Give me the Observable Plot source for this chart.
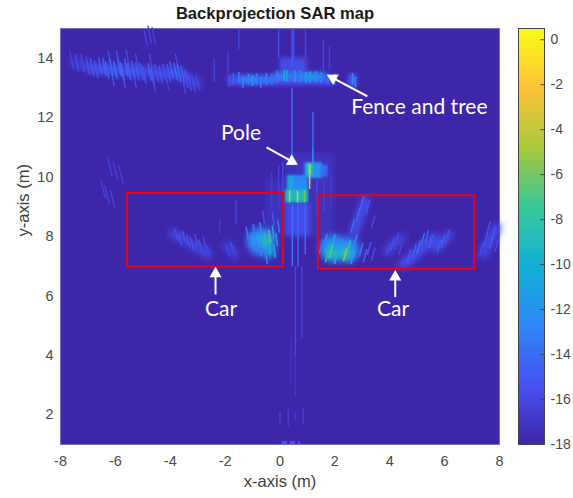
<!DOCTYPE html>
<html><head><meta charset="utf-8">
<style>
html,body{margin:0;padding:0;background:#fff}
#wrap{position:relative;width:573px;height:498px;overflow:hidden}
#wrap>svg{position:absolute;left:0;top:0}
</style>
<script src="https://cdn.jsdelivr.net/npm/d3@7"></script>
<script src="https://cdn.jsdelivr.net/npm/@observablehq/plot@0.6"></script>
</head><body>
<svg width="0" height="0" style="position:absolute"><defs>
<filter id="blob" filterUnits="userSpaceOnUse" x="0" y="0" width="573" height="498"><feGaussianBlur stdDeviation="3"/></filter>
<filter id="soft" filterUnits="userSpaceOnUse" x="0" y="0" width="573" height="498"><feGaussianBlur stdDeviation="2.2"/></filter>
<filter id="crisp" filterUnits="userSpaceOnUse" x="0" y="0" width="573" height="498"><feGaussianBlur stdDeviation="1"/></filter>
<filter id="fine" filterUnits="userSpaceOnUse" x="0" y="0" width="573" height="498"><feGaussianBlur stdDeviation="0.75"/></filter>
</defs></svg>
<div id="wrap"></div>
<script>
const xTicks=[-8,-6,-4,-2,0,2,4,6,8];
const yTicks=[2,4,6,8,10,12,14];
const cbTicks=[0,-2,-4,-6,-8,-10,-12,-14,-16,-18];
const parula=["#3e26a8","#4752f4","#2d87f7","#11b1d6","#37c897","#abc739","#fec338","#f9fb14"];
// broad patches: x1,x2,y1,y2,value (dB)
const patches=[
[-1.9,1.95,13.42,13.08,-15.6],[-1.5,-0.2,13.4,13.1,-14],[-0.2,1.7,13.52,13.24,-13.4],[0.85,1.4,13.5,13.25,-12.2],[-1.2,-0.9,13.38,13.12,-12.6],
[0.0,1.0,14.0,13.55,-15.8],[2.5,2.8,13.45,13.05,-14.6],
[0.2,2,10.8,9,-17.2],[-0.5,2,9.9,8,-17.4],[0.2,1.1,9.1,8.0,-15.8]
];
// rounded car bodies: x,y,radius,value
const blobs=[
[-0.67,7.82,15,-14.2],[-0.75,7.85,11,-12.6],[-0.95,7.9,5,-10.5],[-0.5,7.85,6,-8.5],[-0.35,7.45,5,-11],
[1.95,7.6,14,-13],[2.45,7.55,13,-13.2],[1.9,7.5,9,-10.5],[2.4,7.45,8,-10.2],[1.85,7.4,4,-7.5],[2.38,7.4,4,-7.5]
];
// the pole's blocks: x1,x2,y1,y2,value
const poleBlocks=[
[0.9,1.55,10.48,9.95,-11.8],[1.5,1.75,10.4,10,-14.2],[1.0,1.2,10.45,10.05,-7.5],
[0.27,1.04,10.05,9.55,-12.6],[0.3,0.48,10.05,9.55,-10.6],
[0.2,1.04,9.57,9.13,-9.2]
];
// wide hazy bands: x1,y1,x2,y2,value
const hazes=[
[-7.5,13.85,-6.8,13.65,-16.4],[-6.8,13.65,-5,13.55,-15],[-5,13.55,-4.2,13.45,-15.8],[-4.2,13.5,-3.6,13.5,-15.2],[-3.6,13.4,-3,13.15,-16],
[-3.9,8.1,-2.6,7.4,-16],[-1.95,7.7,-1.65,7.4,-16.4],
[4.5,7.05,5.6,7.95,-15.5],[5.7,7.6,6.15,8.05,-15.8],[3.9,7.5,4.45,7.95,-16.2],[7.4,7.4,7.9,8.3,-15.8],
[2.7,8.1,3.1,9.2,-15.6]
];
// vertical lines: x,y1,y2,value
const lines=[
[0.44,15,13.7,-15.2],[0.44,13,10.4,-14],[0.45,9.1,7,-13.6],[0.66,9.1,7,-14.4],[0.92,9.1,7.4,-14.4],
[0.56,7,4,-16],[0.8,7,4.6,-16.2],[0.56,4,2.6,-16.9],[0.4,4.6,3,-17],
[1.2,12.2,11,-14],[1.2,11,10.4,-11.8],[1.08,10.45,9.6,-3],
[0.35,9.55,9.15,-3.5],[0.64,9.55,9.15,-3.2],[0.89,9.55,9.15,-6],
[-0.05,15,14,-15.8],[0.5,15,14,-15.6],[0.93,15,14,-16],[-1.5,15,14.3,-16],[1.58,14.6,13.6,-16.1],[1.8,14.4,13.6,-16.4],[-2.4,14,13.2,-16.4],[-1.9,14.2,13.5,-16.5],
[-1.6,9.2,8.4,-16.4],[-2.2,8.6,8.1,-16.8],[0,2.1,1.7,-16.6],[0.3,2.2,1.6,-16.5],[0.85,2.2,1.7,-16.5],[0.55,2.1,1.8,-16.8],
[-0.3,10.2,8.9,-16.6],[-0.05,10.4,9,-16.3],[0.1,10.5,9.2,-16],[1.35,9.9,8.6,-15.8],[1.6,9.9,8.8,-16.4],[1.85,10.1,9,-16.6]
];
// stripes at the bottom edge: x1,x2,value
const bottomStripes=[[0.09,0.27,-15],[0.38,0.56,-15],[0.67,0.75,-15.4]];
// streak centres: x,y,value, one table per feature
const fenceLeft=[[-7.6,13.95,-16],[-7.4,13.85,-15.8],[-7.2,13.85,-16],[-7,13.75,-15.6],[-6.85,13.7,-15.2],[-6.7,13.62,-15.5],[-6.55,13.75,-15],[-6.4,13.72,-14.4],[-6.3,13.6,-14.6],[-6.15,13.7,-14],[-6,13.6,-13.8],[-5.85,13.7,-14.2],[-5.75,13.55,-13.9],[-5.6,13.7,-14.3],[-5.5,13.55,-14.6],[-5.35,13.62,-14.6],[-5.2,13.55,-14.9],[-5.05,13.55,-15],[-4.95,13.45,-15.3],[-4.75,13.55,-14.3],[-4.65,13.4,-14.9],[-4.5,13.5,-15.4],[-4.35,13.45,-15.3],[-4.2,13.5,-15.6],[-4.05,13.5,-15],[-3.95,13.6,-14.7],[-3.8,13.55,-14.2],[-3.68,13.5,-14.1],[-3.55,13.45,-14.8],[-3.42,13.3,-15.1],[-3.3,13.2,-15.5],[-3.15,13.15,-16],[-3,13.2,-16.3],[-4.9,14.7,-16],[-4.75,14.8,-16.1],[-4.6,14.75,-16.2],
[-6.2,13.95,-15.6],[-5.9,13.95,-15.4],[-5.55,14,-15.8],[-5.2,13.85,-15.8],[-4.7,13.85,-15.9],[-6.1,13.35,-15.5],[-5.7,13.3,-15.3],[-5.3,13.3,-15.6],[-4.6,13.15,-15.8],[-4.1,13.2,-16.2],[-3.75,13.85,-15.8],[-3.5,13.1,-15.9]];
const fenceRight=[[-1.85,13.25,-15.2],[-1.7,13.3,-14.8],[-1.5,13.35,-13.6],[-1.35,13.2,-12.8],[-1.15,13.3,-13.1],[-1,13.25,-12.4],[-0.85,13.3,-13],[-0.7,13.2,-13.4],[-0.5,13.3,-13.2],[-0.3,13.3,-14],[-0.1,13.4,-13.2],[0.15,13.42,-10.8],[0.25,13.42,-11],[0.55,13.4,-12],[0.75,13.4,-12.6],[0.95,13.35,-11.8],[1.1,13.38,-11.4],[1.3,13.38,-12.6],[1.5,13.35,-13],[1.75,13.3,-14.4],[2,13.3,-14.8],[2.65,13.3,-12.8],[2.75,13.2,-13.4]];
const carLeftBig=[[-1.2,8.1,-13.6],[-1.05,7.85,-13],[-0.95,8.2,-13.4],[-0.85,7.7,-12.8],[-0.7,8.25,-12.6],[-0.7,7.55,-12.4],[-0.52,7.9,-9],[-0.38,8.0,-7],[-0.38,7.6,-10.4],[-0.25,8.15,-11],[-0.2,7.5,-10.8],[-0.12,7.9,-11.6],[-0.05,8.35,-14],[-0.5,7.3,-13],[-0.25,8.6,-15.4],[-0.6,8.65,-15.6]];
const carLeftSmall=[[-3.8,8.1,-15.6],[-3.65,7.9,-15.1],[-3.5,8.0,-15.2],[-3.35,7.85,-15],[-3.2,7.75,-15.1],[-3.05,7.9,-15.4],[-2.9,7.7,-15.5],[-2.75,7.8,-15.6],[-2.6,7.5,-16],[-1.9,7.55,-16],[-1.75,7.65,-15.7],[-1.65,7.5,-16]];
const carRightBig=[[1.5,7.65,-13.4],[1.65,7.85,-12.4],[1.72,7.35,-9],[1.85,7.5,-6.5],[1.95,7.85,-10.4],[2.05,7.3,-9.5],[2.2,7.7,-11.4],[2.38,7.4,-5.5],[2.5,7.65,-8.5],[2.65,7.3,-11],[2.75,7.85,-12.4],[2.95,7.55,-13.8],[3.1,7.35,-14.6],[3.25,7.6,-15.2],[3.4,7.4,-15.8],[2.65,8.35,-14],[2.85,8.75,-14.4],[3,9.15,-14.4],[3.2,9.0,-15.4],[3.4,8.5,-16.2]];
const carRightSmall=[[3.95,7.6,-15.8],[4.1,7.75,-15.2],[4.25,7.9,-15.5],[4.4,7.6,-16],[4.7,7.35,-15.1],[4.9,7.55,-14.2],[5.05,7.65,-13.7],[5.2,7.9,-13.6],[5.35,8.0,-14.2],[5.5,7.85,-14.8],[5.8,7.7,-14.8],[5.95,7.85,-14.6],[6.1,8.0,-15.2],[7.35,7.6,-15.4],[7.5,7.9,-15.1],[7.6,8.3,-15.5],[7.7,7.8,-14.9],[7.8,8.1,-15.2],[7.9,7.7,-15.6]];
const faintLeft=[[-6.2,10.35,-16.2],[-6,10.2,-16],[-5.8,10.1,-16.3],[-6.3,9.4,-16],[-6.45,9.6,-16.2],[-6.1,9.25,-16.1]];
// colorbar levels
const levels=d3.range(-18,0.5,0.125);
const wrap=document.getElementById("wrap");
const colorScale={type:"linear",domain:d3.range(8).map(i=>-18+i*18.5/7),range:parula,interpolate:"rgb",clamp:true};
const font={fontFamily:"'Liberation Sans',Arial,sans-serif",color:"#404040",background:"transparent"};
const tick=d=>String(d);
const filtered=id=>(i,s,v,d,c,next)=>{const g=next(i,s,v,d,c);g.setAttribute("filter",`url(#${id})`);return g;};
function streaks(rows,dx,dy,width){
  return Plot.link(rows,{x1:d=>d[0]-dx,y1:d=>d[1]-dy,x2:d=>d[0]+dx,y2:d=>d[1]+dy,stroke:d=>d[2],strokeWidth:width,strokeLinecap:"round",sort:d=>d[2],render:filtered("fine")});
}
const rects=(rows,id)=>Plot.rect(rows,{x1:d=>d[0],x2:d=>d[1],y1:d=>d[2],y2:d=>d[3],fill:d=>d[4],render:filtered(id)});
const white={fill:"white",fontFamily:"Lato,sans-serif",fontSize:21,stroke:"none"};
const main=Plot.plot({
  width:573,height:498,marginLeft:60,marginRight:74,marginTop:28,marginBottom:54,style:font,
  x:{domain:[-8,8]},y:{domain:[1,15]},color:colorScale,r:{type:"identity"},
  marks:[
    Plot.frame({fill:parula[0],stroke:"#7a6cc8"}),
    rects(patches,"soft"),
    Plot.dot(blobs,{x:d=>d[0],y:d=>d[1],r:d=>d[2],fill:d=>d[3],stroke:"none",render:filtered("blob")}),
    Plot.link(hazes,{x1:d=>d[0],y1:d=>d[1],x2:d=>d[2],y2:d=>d[3],stroke:d=>d[4],strokeWidth:9,strokeLinecap:"round",render:filtered("blob")}),
    rects(poleBlocks,"crisp"),
    Plot.link(lines,{x:d=>d[0],y1:d=>d[1],y2:d=>d[2],stroke:d=>d[3],strokeWidth:1.5,sort:d=>d[3],render:filtered("fine")}),
    streaks(fenceLeft,0.06,-0.28,1.4),
    streaks(fenceRight,0,0.16,1.8),
    streaks(carLeftBig,0.03,-0.2,1.6),
    streaks(carLeftSmall,0.05,-0.18,1.3),
    streaks(carRightBig,0.06,0.2,1.6),
    streaks(carRightSmall,0.06,0.2,1.3),
    streaks(faintLeft,0.08,-0.3,1.3),
    Plot.rect(bottomStripes,{x1:d=>d[0],x2:d=>d[1],y1:1,y2:1.1,fill:d=>d[2]}),
    Plot.rect([[-5.56,0.12,6.97,9.45],[1.4,7.1,6.9,9.37]],{x1:d=>d[0],x2:d=>d[1],y1:d=>d[2],y2:d=>d[3],stroke:"#f00010",strokeWidth:2,fill:"none"}),
    Plot.link([[3.18,12.72,1.95,13.32],[-0.49,11,0.43,10.53],[-2.35,6.05,-2.35,6.75],[4.2,5.96,4.2,6.64]],{x1:d=>d[0],y1:d=>d[1],x2:d=>d[2],y2:d=>d[3],stroke:"white",strokeWidth:2}),
    Plot.dot([[1.93,13.33,-62],[0.43,10.53,119],[-2.35,6.75,0],[4.2,6.64,0]],{x:d=>d[0],y:d=>d[1],rotate:d=>d[2],symbol:"triangle",r:4.5,fill:"white",stroke:"none"}),
    Plot.text([[5.08,12.34,"Fence and tree"],[-1.42,11.46,"Pole"],[-2.15,5.56,"Car"],[4.12,5.56,"Car"]],{x:d=>d[0],y:d=>d[1],text:d=>d[2],...white}),
    Plot.axisX({ticks:xTicks,tickSize:0,tickPadding:11,tickFormat:tick,fontSize:14.5,label:null,fill:"#4a4a4a"}),
    Plot.axisY({ticks:yTicks,tickSize:0,tickPadding:7,tickFormat:tick,fontSize:14.5,label:null,fill:"#4a4a4a"}),
    Plot.text(["x-axis (m)"],{frameAnchor:"bottom",dy:42,fontSize:16.5,fill:"#404040"}),
    Plot.text(["y-axis (m)"],{frameAnchor:"left",dx:-37,rotate:-90,fontSize:16.5,fill:"#404040"}),
    Plot.text(["Backprojection SAR map"],{frameAnchor:"top",dy:-21,dx:-5,fontSize:16.6,fontWeight:"bold",fill:"#1a1a1a"})
  ]
});
wrap.append(main);
const bar=Plot.plot({
  width:573,height:498,marginLeft:518,marginRight:29,marginTop:28,marginBottom:54,style:font,
  x:{domain:[0,1],axis:null},y:{domain:[-18,0.5]},color:colorScale,
  marks:[
    Plot.rect(levels,{x1:0,x2:1,y1:d=>d,y2:d=>d+0.125,fill:d=>d+0.0625,shapeRendering:"crispEdges"}),
    Plot.ruleY(cbTicks,{x1:0.86,x2:1,stroke:"#444"}),
    Plot.frame({stroke:"#444"}),
    Plot.axisY({anchor:"right",ticks:cbTicks,tickSize:0,tickPadding:6,tickFormat:tick,fontSize:14,label:null,fill:"#4a4a4a"})
  ]
});
wrap.append(bar);
</script></body></html>
